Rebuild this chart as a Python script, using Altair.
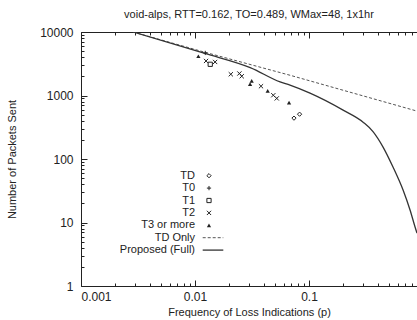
import altair as alt
import pandas as pd

# ---------------- data ----------------
TD_P = [0.0738, 0.0826]
TD_N = [440, 508]
T0_P = [0.0123]
T0_N = [4680]
T1_P = [0.0136]
T1_N = [3100]
T2_P = [0.0125, 0.0150, 0.0206, 0.0245, 0.0257, 0.0379, 0.0486, 0.0521]
T2_N = [3500, 3375, 2160, 2220, 2010, 1400, 1010, 900]
T3_P = [0.0107, 0.0304, 0.0314, 0.0434, 0.0668]
T3_N = [4150, 1510, 1700, 1180, 770]

TDONLY_P = [0.00286, 0.0122, 0.0681, 0.885]
TDONLY_N = [10000, 4800, 2084, 568]

FULL_P = [0.00286, 0.0122, 0.0305, 0.0557, 0.0681, 0.102, 0.199, 0.298, 0.364,
          0.446, 0.545, 0.668, 0.769, 0.851, 0.885]
FULL_N = [10000, 4600, 2750, 1636, 1452, 1087, 588, 380, 270, 154, 74.7, 32.4,
          15.7, 8.5, 6.8]

TYPES = ["TD", "T0", "T1", "T2", "T3 or more"]
LEGEND_LABELS = ["TD", "T0", "T1", "T2", "T3 or more", "TD Only", "Proposed (Full)"]

X_MAJOR = [0.001, 0.01, 0.1]
X_MINOR = [0.002, 0.003, 0.004, 0.005, 0.006, 0.007, 0.008, 0.009,
           0.02, 0.03, 0.04, 0.05, 0.06, 0.07, 0.08, 0.09,
           0.2, 0.3, 0.4, 0.5, 0.6, 0.7, 0.8]
Y_MAJOR = [1, 10, 100, 1000, 10000]
Y_MINOR = [m * d for d in [1, 10, 100, 1000] for m in [2, 3, 4, 5, 6, 7, 8, 9]]

TITLE = "void-alps, RTT=0.162, TO=0.489, WMax=48, 1x1hr"
X_TITLE = "Frequency of Loss Indications (p)"
Y_TITLE = "Number of Packets Sent"

# ---------------- tables ----------------
pts = pd.concat([
    pd.DataFrame({"p": TD_P, "n": TD_N, "type": "TD"}),
    pd.DataFrame({"p": T0_P, "n": T0_N, "type": "T0"}),
    pd.DataFrame({"p": T1_P, "n": T1_N, "type": "T1"}),
    pd.DataFrame({"p": T2_P, "n": T2_N, "type": "T2"}),
    pd.DataFrame({"p": T3_P, "n": T3_N, "type": "T3 or more"}),
], ignore_index=True)
open_pts = pts[pts["type"] != "T3 or more"]
tri_pts = pts[pts["type"] == "T3 or more"]

tdonly = pd.DataFrame({"p": TDONLY_P, "n": TDONLY_N})
full = pd.DataFrame({"p": FULL_P, "n": FULL_N})

leg = pd.DataFrame({"label": LEGEND_LABELS, "row": list(range(len(LEGEND_LABELS)))})
leg_sym = leg.iloc[:5].assign(type=TYPES)
leg_open = leg_sym[leg_sym["type"] != "T3 or more"]
leg_tri = leg_sym[leg_sym["type"] == "T3 or more"]
leg_dash = leg.iloc[5:6]
leg_solid = leg.iloc[6:7]

# ---------------- styling ----------------
W, H = 336, 254
FONT = "Liberation Sans"
INK = "#222222"
MSIZE = 18
MAJOR_TEST = "abs(log(datum.value)/LN10 - round(log(datum.value)/LN10)) < 0.000001"

x_scale = alt.Scale(type="log", domain=[0.001, 0.885], nice=False)
y_scale = alt.Scale(type="log", domain=[1, 10000], nice=False)
leg_y = alt.Scale(domain=[0, 6], range=[143.7, 218.1])

shape_scale = alt.Scale(
    domain=TYPES,
    range=["diamond", "M-1,0H1M0,-1V1", "square", "M-1,-1L1,1M-1,1L1,-1", "triangle-up"],
)

# axes
ax_x_labels = alt.Axis(orient="bottom", values=X_MAJOR, format="~g", ticks=False,
                       domain=True, domainColor=INK, grid=False, labelFont=FONT,
                       labelFontSize=12, labelColor=INK, labelPadding=5,
                       title=X_TITLE, titleFont=FONT, titleFontSize=11,
                       titleFontWeight="normal", titleColor=INK,
                       titleX=W / 2, titleY=26, titleBaseline="middle",
                       titleAlign="center")
ax_x_inner_bottom = alt.Axis(orient="top", offset=-H, values=X_MAJOR + X_MINOR,
                             domain=False, labels=False, grid=False, title=None,
                             tickColor=INK,
                             tickSize={"condition": {"test": MAJOR_TEST, "value": 6}, "value": 3})
ax_x_top_frame = alt.Axis(orient="bottom", offset=-H, values=X_MAJOR + X_MINOR,
                          domain=True, domainColor=INK, labels=False, grid=False,
                          title=None, tickColor=INK,
                          tickSize={"condition": {"test": MAJOR_TEST, "value": 6}, "value": 3})
ax_y_labels = alt.Axis(orient="left", values=Y_MAJOR, format="~g", ticks=False,
                       domain=True, domainColor=INK, grid=False, labelFont=FONT,
                       labelFontSize=12, labelColor=INK, labelPadding=8,
                       title=Y_TITLE, titleFont=FONT, titleFontSize=11,
                       titleFontWeight="normal", titleColor=INK,
                       titleX=-69, titleY=H / 2, titleAngle=270,
                       titleBaseline="middle", titleAlign="center")
ax_y_inner = alt.Axis(orient="right", offset=-W, values=Y_MAJOR + Y_MINOR,
                      domain=False, labels=False, grid=False, title=None,
                      tickColor=INK,
                      tickSize={"condition": {"test": MAJOR_TEST, "value": 6}, "value": 3})

# ---------------- layers ----------------
dash_line = alt.Chart(tdonly).mark_line(
    color="#555555", strokeWidth=1, strokeDash=[3, 2], clip=True
).encode(
    x=alt.X("p:Q", scale=x_scale, axis=ax_x_labels),
    y=alt.Y("n:Q", scale=y_scale, axis=ax_y_labels),
)

solid_line = alt.Chart(full).mark_line(
    color="#333333", strokeWidth=1.3, clip=True, interpolate="monotone"
).encode(
    x=alt.X("p:Q", scale=x_scale, axis=ax_x_inner_bottom),
    y=alt.Y("n:Q", scale=y_scale, axis=ax_y_inner),
)

open_layer = alt.Chart(open_pts).mark_point(
    filled=False, color=INK, size=MSIZE, strokeWidth=1, opacity=1
).encode(
    x=alt.X("p:Q", scale=x_scale, axis=ax_x_top_frame),
    y=alt.Y("n:Q", scale=y_scale, axis=None),
    shape=alt.Shape("type:N", scale=shape_scale, legend=None),
)

tri_layer = alt.Chart(tri_pts).mark_point(
    filled=True, color=INK, size=MSIZE, opacity=1
).encode(
    x=alt.X("p:Q", scale=x_scale, axis=None),
    y=alt.Y("n:Q", scale=y_scale, axis=None),
    shape=alt.Shape("type:N", scale=shape_scale, legend=None),
)

leg_text = alt.Chart(leg).mark_text(
    align="right", baseline="middle", font=FONT, fontSize=11, color=INK
).encode(
    x=alt.value(114),
    y=alt.Y("row:Q", scale=leg_y, axis=None),
    text="label:N",
)

leg_open_layer = alt.Chart(leg_open).mark_point(
    filled=False, color=INK, size=MSIZE, strokeWidth=1, opacity=1
).encode(
    x=alt.value(128),
    y=alt.Y("row:Q", scale=leg_y, axis=None),
    shape=alt.Shape("type:N", scale=shape_scale, legend=None),
)

leg_tri_layer = alt.Chart(leg_tri).mark_point(
    filled=True, color=INK, size=MSIZE, opacity=1
).encode(
    x=alt.value(128),
    y=alt.Y("row:Q", scale=leg_y, axis=None),
    shape=alt.Shape("type:N", scale=shape_scale, legend=None),
)

leg_dash_layer = alt.Chart(leg_dash).mark_rule(
    color="#555555", strokeWidth=1, strokeDash=[3, 2]
).encode(
    x=alt.value(121.7), x2=alt.value(142.3),
    y=alt.Y("row:Q", scale=leg_y, axis=None),
)

leg_solid_layer = alt.Chart(leg_solid).mark_rule(
    color="#333333", strokeWidth=1.3
).encode(
    x=alt.value(121.7), x2=alt.value(142.3),
    y=alt.Y("row:Q", scale=leg_y, axis=None),
)

chart = alt.layer(
    dash_line, solid_line, open_layer, tri_layer,
    leg_text, leg_open_layer, leg_tri_layer, leg_dash_layer, leg_solid_layer,
).resolve_axis(
    x="independent", y="independent"
).resolve_scale(
    y="independent"
).properties(
    width=W, height=H,
    title=alt.TitleParams(TITLE, font=FONT, fontSize=11, fontWeight="normal",
                          color=INK, anchor="middle", offset=6),
    autosize=alt.AutoSizeParams(type="none"),
    padding={"left": 81, "top": 32, "right": 0, "bottom": 34},
    background="white",
).configure_view(stroke=None)

chart.save("out.html", embed_options={"renderer": "svg", "actions": False})
